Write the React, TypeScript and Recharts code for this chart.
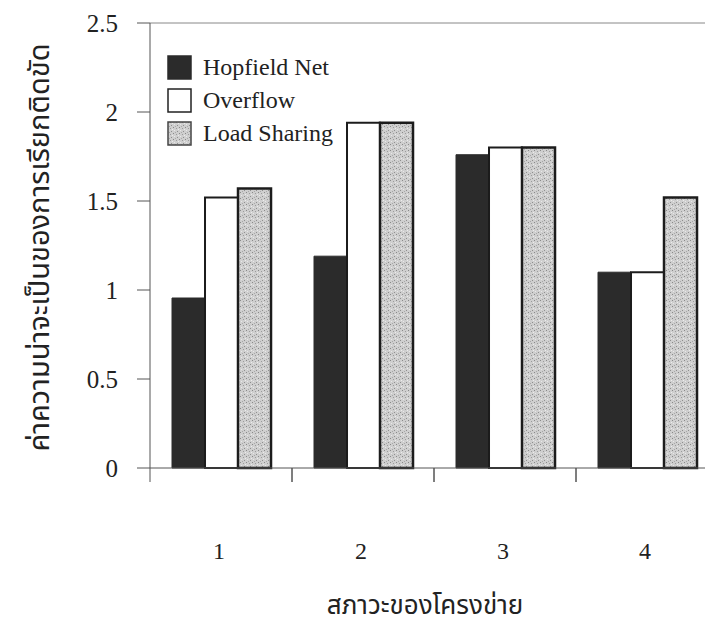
import { BarChart, Bar, XAxis, YAxis, ReferenceLine } from "recharts";

const categories = ["1", "2", "3", "4"];
const hopfield = [0.955, 1.19, 1.76, 1.1];
const overflow = [1.52, 1.94, 1.8, 1.1];
const loadSharing = [1.57, 1.94, 1.8, 1.52];
const yTicks = [0, 0.5, 1, 1.5, 2, 2.5];

const seriesNames = ["Hopfield Net", "Overflow", "Load Sharing"];

const CHART_W = 730;
const CHART_H = 630;
const Y_W = 150;
const MARGIN = { top: 23, right: 12, left: 0, bottom: 0 };
const BAND = (CHART_W - Y_W - MARGIN.right) / categories.length;

const serif = "'Liberation Serif', 'DejaVu Serif', serif";
const thai = "'Noto Sans Thai', 'Noto Serif Thai', Loma, Garuda, Norasi, 'Tlwg Typo', sans-serif";

const data = categories.map((c, i) => ({
  name: c,
  hopfield: hopfield[i],
  overflow: overflow[i],
  loadSharing: loadSharing[i],
}));

const CatTick = ({ x, y, payload }: any) => (
  <g>
    <line x1={x - BAND / 2} y1={y} x2={x - BAND / 2} y2={y + 14} stroke="#555" />
    <line x1={x + BAND / 2} y1={y} x2={x + BAND / 2} y2={y + 14} stroke="#555" />
    <text x={x - 2} y={y + 91} textAnchor="middle" style={{ fontFamily: serif }} fontSize={24} fill="#222">
      {payload.value}
    </text>
  </g>
);

const YLabel = ({ viewBox }: any) => {
  const cy = viewBox.y + viewBox.height / 2 + 2;
  return (
    <text
      x={40}
      y={cy}
      transform={`rotate(-90 40 ${cy})`}
      textAnchor="middle"
      dominantBaseline="central"
      style={{ fontFamily: thai }}
      fontSize={29}
      fill="#222"
    >
      ค่าความน่าจะเป็นของการเรียกติดขัด
    </text>
  );
};

const XLabel = ({ viewBox }: any) => (
  <text
    x={viewBox.x + viewBox.width / 2 - 9}
    y={606}
    textAnchor="middle"
    dominantBaseline="central"
    style={{ fontFamily: thai }}
    fontSize={26}
    fill="#222"
  >
    สภาวะของโครงข่าย
  </text>
);

const swatches = [
  { fill: "#2b2b2b", stroke: "#2b2b2b" },
  { fill: "#ffffff", stroke: "#222" },
  { fill: "url(#speckle)", stroke: "#444" },
];

const LegendBox = () => (
  <div style={{ position: "absolute", left: 167, top: 51, fontFamily: serif, fontSize: 24, color: "#222" }}>
    {seriesNames.map((n, i) => (
      <div key={n} style={{ display: "flex", alignItems: "center", height: 33 }}>
        <svg width={26} height={26} style={{ marginRight: 10 }}>
          <rect x={1} y={1} width={23} height={23} fill={swatches[i].fill} stroke={swatches[i].stroke} strokeWidth={1.5} />
        </svg>
        <span>{n}</span>
      </div>
    ))}
  </div>
);

export default function App() {
  return (
    <div style={{ position: "fixed", left: 0, top: 0, width: 705, height: 630, overflow: "hidden", background: "#fff" }}>
      <svg width={0} height={0} style={{ position: "absolute" }}>
        <defs>
          <pattern id="speckle" width="6" height="6" patternUnits="userSpaceOnUse">
            <rect width="6" height="6" fill="#cfcfcf" />
            <rect x="0" y="0" width="1" height="1" fill="#8a8a8a" />
            <rect x="3" y="1" width="1" height="1" fill="#9c9c9c" />
            <rect x="1" y="3" width="1" height="1" fill="#e8e8e8" />
            <rect x="4" y="4" width="1" height="1" fill="#8f8f8f" />
            <rect x="2" y="5" width="1" height="1" fill="#a8a8a8" />
            <rect x="5" y="2" width="1" height="1" fill="#ececec" />
          </pattern>
        </defs>
      </svg>
      <BarChart width={CHART_W} height={CHART_H} data={data} margin={MARGIN} barCategoryGap="15.5%" barGap={0}>
        <XAxis
          dataKey="name"
          height={CHART_H - MARGIN.top - 445}
          tickLine={false}
          tickSize={0}
          tickMargin={0}
          tick={<CatTick />}
          axisLine={{ stroke: "#555" }}
          interval={0}
          label={<XLabel />}
        />
        <YAxis
          width={Y_W}
          domain={[0, 2.5]}
          ticks={yTicks}
          interval={0}
          tickSize={13}
          tickMargin={19}
          tickLine={{ stroke: "#555" }}
          axisLine={{ stroke: "#555" }}
          tick={{ fontSize: 25, fill: "#222", style: { fontFamily: serif } }}
          label={<YLabel />}
        />
        <ReferenceLine y={2.5} stroke="#888" />
        <Bar dataKey="hopfield" name={seriesNames[0]} fill="#2b2b2b" stroke="#2b2b2b" isAnimationActive={false} />
        <Bar dataKey="overflow" name={seriesNames[1]} fill="#ffffff" stroke="#1c1c1c" strokeWidth={2} isAnimationActive={false} />
        <Bar dataKey="loadSharing" name={seriesNames[2]} fill="url(#speckle)" stroke="#1c1c1c" strokeWidth={2.5} isAnimationActive={false} />
      </BarChart>
      <LegendBox />
    </div>
  );
}
